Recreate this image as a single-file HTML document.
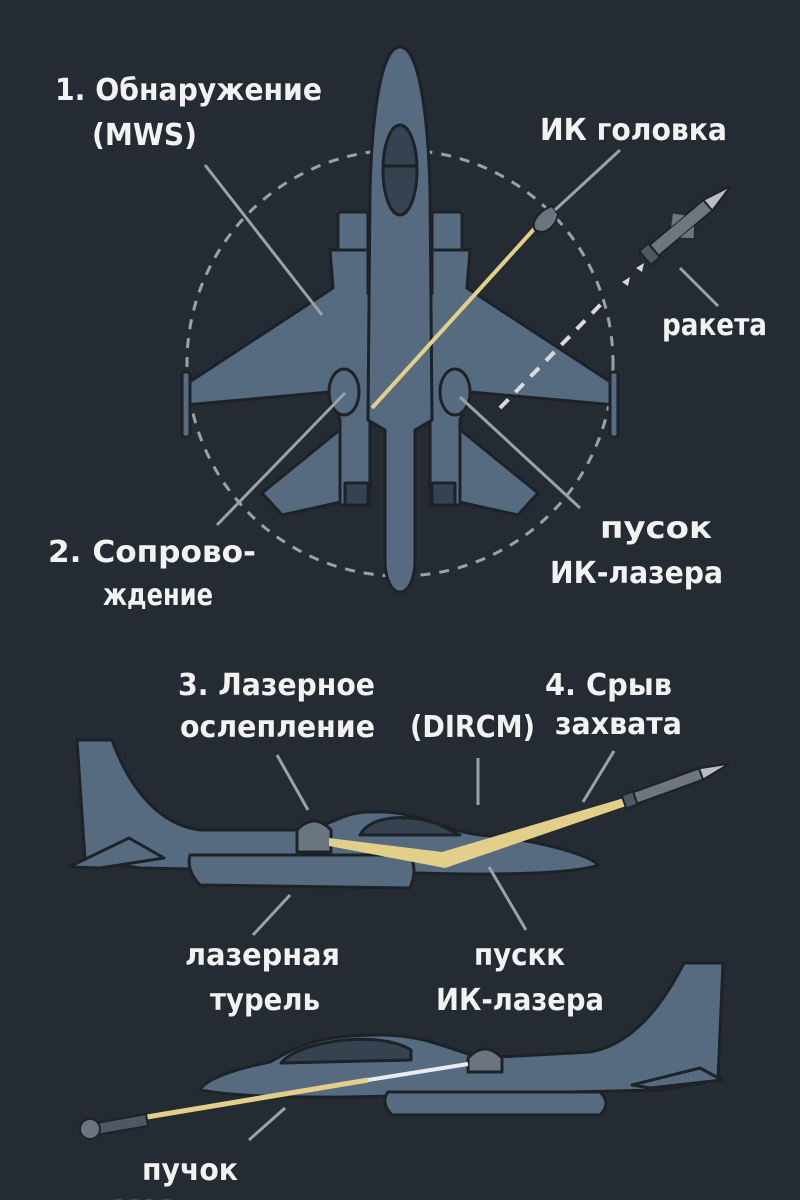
<!DOCTYPE html>
<html><head><meta charset="utf-8"><style>
html,body{margin:0;padding:0;background:#252b33;}
svg{display:block}
text{font-family:"DejaVu Sans Condensed","DejaVu Sans","Liberation Sans",sans-serif;fill:#f2f2f2;font-size:30px;font-weight:bold;}
</style></head><body>
<svg width="800" height="1200" viewBox="0 0 800 1200" xmlns="http://www.w3.org/2000/svg">
<rect width="800" height="1200" fill="#252b33"/>
<circle cx="400" cy="363" r="213" fill="none" stroke="#9aa1a8" stroke-width="3" stroke-dasharray="10 9"/>
<g fill="#566a80" stroke="#1c2228" stroke-width="3" stroke-linejoin="round">
 <polygon points="262,493 342,428 350,500 282,515"/>
 <polygon points="538,493 458,428 450,500 518,515"/>
 <rect x="338" y="212" width="30" height="40" rx="3"/>
 <rect x="432" y="212" width="30" height="40" rx="3"/>
 <path d="M333,288 L330,250 L470,250 L467,288 L615,385 L615,405 L470,392 L460,420 L460,505 L430,505 L430,420 L370,420 L370,505 L340,505 L340,420 L330,392 L185,405 L185,385 Z"/>
 <rect x="182" y="372" width="8" height="65" rx="3"/>
 <rect x="610" y="372" width="8" height="65" rx="3"/>
 <path d="M400,47 C380,47 372,120 370,190 L368,420 L385,430 L385,560 C385,580 392,592 400,592 C408,592 415,580 415,560 L415,430 L432,420 L430,190 C428,120 420,47 400,47 Z"/>
 <ellipse cx="400" cy="170" rx="17" ry="45" fill="#36424f"/>
 <line x1="383" y1="166" x2="417" y2="166"/>
 <ellipse cx="344" cy="392" rx="15" ry="23"/>
 <ellipse cx="455" cy="392" rx="15" ry="23"/>
 <rect x="345" y="483" width="23" height="22" fill="#36424f"/>
 <rect x="432" y="483" width="23" height="22" fill="#36424f"/>
</g>
<line x1="368" y1="250" x2="368" y2="295" stroke="#1c2228" stroke-width="3"/>
<line x1="432" y1="250" x2="432" y2="295" stroke="#1c2228" stroke-width="3"/>
<line x1="372" y1="408" x2="535" y2="228" stroke="#e2cf8a" stroke-width="4"/>
<path d="M535,230 C530,222 540,210 552,206 L558,214 C556,226 545,236 535,230 Z" fill="#6b7580" stroke="#1c2228" stroke-width="2"/>
<line x1="555" y1="210" x2="620" y2="150" stroke="#9aa1a8" stroke-width="3"/>
<line x1="500" y1="408" x2="605" y2="300" stroke="#d5dbe0" stroke-width="4" stroke-dasharray="12 10"/>
<g transform="translate(645,258) rotate(-40)">
 <rect x="0" y="-9" width="12" height="18" fill="#4e5863" stroke="#1c2228" stroke-width="2"/>
 <rect x="12" y="-7" width="70" height="14" fill="#6e7780" stroke="#1c2228" stroke-width="2"/>
 <polygon points="82,-7 112,0 82,7" fill="#b7bec4" stroke="#1c2228" stroke-width="2"/>
 <polygon points="40,-7 50,-16 58,-7" fill="#6e7780"/>
 <polygon points="40,7 50,16 58,7" fill="#6e7780"/>
</g>
<path d="M622,282 l8,-5 l-2,9 z M636,268 l8,-5 l-2,9 z" fill="#d8d8d8"/>
<g stroke="#9aa1a8" stroke-width="3">
 <line x1="680" y1="268" x2="718" y2="306"/>
 <line x1="205" y1="165" x2="322" y2="315"/>
 <line x1="217" y1="525" x2="345" y2="393"/>
 <line x1="580" y1="508" x2="460" y2="397"/>
</g>
<text x="55" y="100" textLength="267" lengthAdjust="spacingAndGlyphs">1. Обнаружение</text>
<text x="92" y="145" textLength="105" lengthAdjust="spacingAndGlyphs">(MWS)</text>
<text x="540" y="140" textLength="187" lengthAdjust="spacingAndGlyphs">ИК головка</text>
<text x="662" y="335" textLength="105" lengthAdjust="spacingAndGlyphs">ракета</text>
<text x="48" y="562" textLength="208" lengthAdjust="spacingAndGlyphs">2. Сопрово-</text>
<text x="103" y="605" textLength="110" lengthAdjust="spacingAndGlyphs">ждение</text>
<text x="600" y="538" textLength="112" lengthAdjust="spacingAndGlyphs">пусок</text>
<text x="550" y="583" textLength="173" lengthAdjust="spacingAndGlyphs">ИК-лазера</text>

<g fill="#566a80" stroke="#1c2228" stroke-width="3" stroke-linejoin="round">
 <path d="M77,740 L112,740 C130,790 160,825 200,830 L300,830 C330,828 340,812 370,812 C420,810 440,830 480,835 C540,840 590,855 598,865 C570,875 480,875 416,873 L140,868 L85,860 Z"/>
 <polygon points="69,867 129,838 164,858 100,868"/>
 <path d="M190,855 L410,855 Q418,870 410,888 L200,885 Q186,870 190,855 Z"/>
 <path d="M360,835 C370,815 410,813 440,825 L460,835 Z" fill="#36424f"/>
 <path d="M297,852 L297,830 Q314,812 331,830 L331,852 Z" fill="#6b7580"/>
</g>
<polygon points="329,838 442,852 624,798 626,806 445,868 329,846" fill="#e2cf8a"/>
<g transform="translate(624,802) rotate(-20)">
 <rect x="0" y="-7" width="12" height="14" fill="#4e5863" stroke="#1c2228" stroke-width="2"/>
 <rect x="12" y="-6" width="70" height="12" fill="#6e7780" stroke="#1c2228" stroke-width="2"/>
 <polygon points="82,-6 112,0 82,6" fill="#b7bec4" stroke="#1c2228" stroke-width="2"/>
</g>
<g stroke="#9aa1a8" stroke-width="3">
 <line x1="277" y1="755" x2="308" y2="810"/>
 <line x1="478" y1="758" x2="478" y2="805"/>
 <line x1="614" y1="751" x2="583" y2="802"/>
 <line x1="290" y1="895" x2="253" y2="935"/>
 <line x1="489" y1="867" x2="526" y2="930"/>
</g>
<text x="178" y="695" textLength="197" lengthAdjust="spacingAndGlyphs">3. Лазерное</text>
<text x="180" y="737" textLength="195" lengthAdjust="spacingAndGlyphs">ослепление</text>
<text x="410" y="737" textLength="125" lengthAdjust="spacingAndGlyphs">(DIRCM)</text>
<text x="545" y="695" textLength="127" lengthAdjust="spacingAndGlyphs">4. Срыв</text>
<text x="555" y="734" textLength="127" lengthAdjust="spacingAndGlyphs">захвата</text>
<text x="185" y="965" textLength="155" lengthAdjust="spacingAndGlyphs">лазерная</text>
<text x="210" y="1010" textLength="110" lengthAdjust="spacingAndGlyphs">турель</text>
<text x="474" y="965" textLength="91" lengthAdjust="spacingAndGlyphs">пускк</text>
<text x="436" y="1010" textLength="168" lengthAdjust="spacingAndGlyphs">ИК-лазера</text>

<g fill="#566a80" stroke="#1c2228" stroke-width="3" stroke-linejoin="round">
 <path d="M723,963 L684,963 C660,1010 630,1045 590,1052 L480,1058 C440,1045 420,1035 380,1035 C320,1035 300,1045 270,1062 C230,1070 205,1080 200,1090 C240,1098 330,1098 390,1096 L660,1090 L718,1080 Z"/>
 <polygon points="632,1085 700,1068 722,1080 650,1088"/>
 <path d="M388,1092 L600,1092 Q612,1103 600,1115 L392,1115 Q380,1103 388,1092 Z"/>
 <path d="M281,1063 C300,1040 380,1030 411,1050 L411,1060 Z" fill="#36424f"/>
 <path d="M468,1072 L468,1058 Q485,1040 502,1058 L502,1072 Z" fill="#6b7580"/>
</g>
<line x1="368" y1="1080" x2="468" y2="1064" stroke="#e8ecef" stroke-width="4"/>
<line x1="147" y1="1117" x2="368" y2="1080" stroke="#e2cf8a" stroke-width="5"/>
<g transform="translate(147,1120) rotate(170)">
 <rect x="0" y="-6" width="50" height="12" fill="#4e5863" stroke="#1c2228" stroke-width="2"/>
</g>
<circle cx="90" cy="1129" r="10" fill="#6b7580" stroke="#1c2228" stroke-width="2"/>
<line x1="285" y1="1108" x2="249" y2="1140" stroke="#9aa1a8" stroke-width="3"/>
<text x="142" y="1180" textLength="96" lengthAdjust="spacingAndGlyphs">пучок</text>
<text x="112" y="1222" textLength="60" lengthAdjust="spacingAndGlyphs">ИК</text>
</svg>
</body></html>
